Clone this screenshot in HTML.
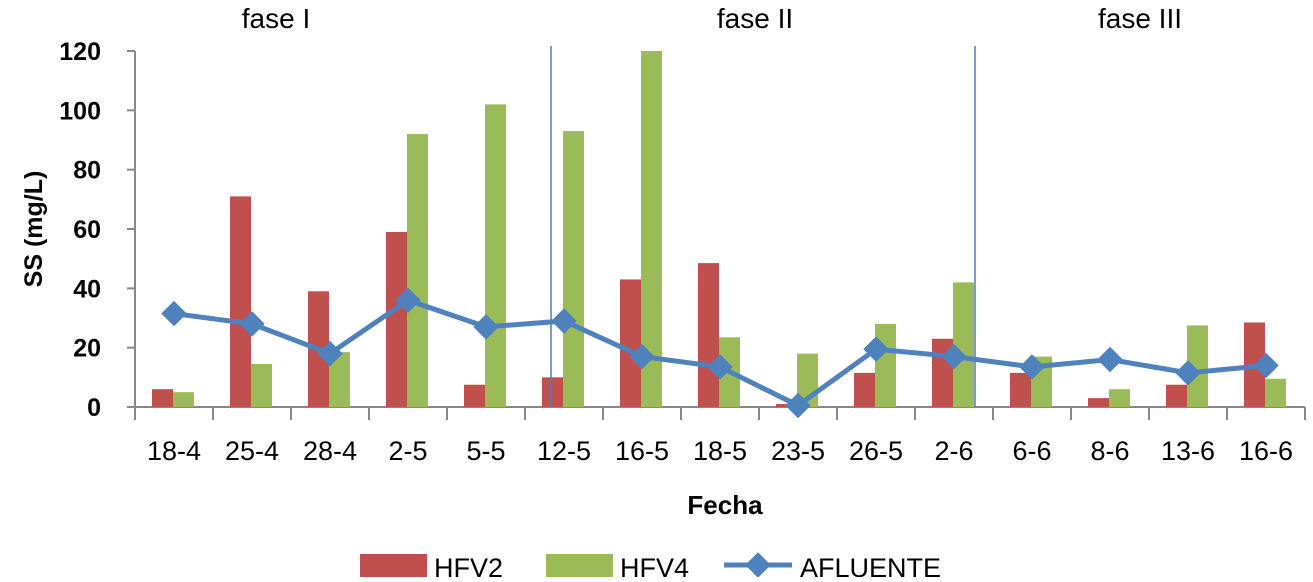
<!DOCTYPE html>
<html><head><meta charset="utf-8"><style>
body{margin:0;background:#fff;}
svg text{font-family:"Liberation Sans","DejaVu Sans",sans-serif;}
</style></head><body>
<svg id="c" width="1313" height="577" xmlns="http://www.w3.org/2000/svg"></svg>
<script>
const categories=["18-4","25-4","28-4","2-5","5-5","12-5","16-5","18-5","23-5","26-5","2-6","6-6","8-6","13-6","16-6"];
const hfv2=[6,71,39,59,7.5,10,43,48.5,1,11.5,23,11.5,3,7.5,28.5];
const hfv4=[5,14.5,18.5,92,102,93,120,23.5,18,28,42,17,6,27.5,9.5];
const afluente=[31.5,28,18,36,27,29,17,13.5,0.5,19.5,17,13.5,16,11.5,14];
const yTicks=[0,20,40,60,80,100,120];
const phases=["fase I","fase II","fase III"];
const NS="http://www.w3.org/2000/svg";
const svg=document.getElementById('c');
const L=135,step=78,Y0=407,pxu=356/120;
const x=i=>L+step*(i+0.5);
const y=v=>Y0-v*pxu;
function mk(t,a,p){const e=document.createElementNS(NS,t);for(const k in a)e.setAttribute(k,a[k]);(p||svg).appendChild(e);return e;}
let ax=mk('line',{x1:L,y1:51,x2:L,y2:Y0,stroke:'#888','stroke-width':2});


let bx=mk('line',{x1:L-8,y1:Y0,x2:L+step*15,y2:Y0,stroke:'#888','stroke-width':2});


yTicks.forEach(v=>{
 mk('line',{x1:L-8,y1:y(v),x2:L,y2:y(v),stroke:'#888','stroke-width':2});
 const t=mk('text',{x:L-34,y:y(v)+9,'text-anchor':'end','font-size':25,'font-weight':'bold'});t.textContent=v;
 
 
});
for(let i=0;i<=15;i++)mk('line',{x1:L+step*i,y1:Y0,x2:L+step*i,y2:Y0+13,stroke:'#888','stroke-width':2});
categories.forEach((c,i)=>{
 const t=mk('text',{x:x(i),y:Y0+53,'text-anchor':'middle','font-size':27});t.textContent=c;
 
 
 const r=mk('rect',{x:x(i)-22,y:y(hfv2[i]),width:21,height:Y0-y(hfv2[i]),fill:'#c0504d'});
 
 
 const g=mk('rect',{x:x(i)-1,y:y(hfv4[i]),width:21,height:Y0-y(hfv4[i]),fill:'#9bbb59'});
 
 
});
[551,975].forEach(px=>{const l=mk('line',{x1:px,y1:46,x2:px,y2:Y0,stroke:'#4a7ebb','stroke-width':1.5});
 
 });
[[276,phases[0]],[755,phases[1]],[1140,phases[2]]].forEach(([px,s])=>{
 const t=mk('text',{x:px,y:28,'text-anchor':'middle','font-size':28});t.textContent=s;
 
 });
const pts=afluente.map((v,i)=>x(i)+','+y(v)).join(' ');
const pl=mk('polyline',{points:pts,fill:'none',stroke:'#4f81bd','stroke-width':5});


afluente.forEach((v,i)=>{const d=mk('rect',{x:x(i)-9,y:y(v)-9,width:18,height:18,fill:'#4f81bd',transform:`rotate(45 ${x(i)} ${y(v)})`});
 
 });
let yt=mk('text',{x:0,y:0,'text-anchor':'middle','font-size':25,'font-weight':'bold',transform:'translate(42 229) rotate(-90)'});yt.textContent='SS (mg/L)';


let xt=mk('text',{x:725,y:514,'text-anchor':'middle','font-size':26,'font-weight':'bold'});xt.textContent='Fecha';


const lg=mk('g',{});


mk('rect',{x:360,y:554,width:67,height:23,fill:'#c0504d'},lg);
let t1=mk('text',{x:434,y:577,'font-size':27},lg);t1.textContent='HFV2';
mk('rect',{x:546,y:554,width:67,height:23,fill:'#9bbb59'},lg);
let t2=mk('text',{x:620,y:577,'font-size':27},lg);t2.textContent='HFV4';
mk('line',{x1:724,y1:565,x2:792,y2:565,stroke:'#4f81bd','stroke-width':5},lg);
mk('rect',{x:749,y:556,width:18,height:18,fill:'#4f81bd',transform:'rotate(45 758 565)'},lg);
let t3=mk('text',{x:800,y:577,'font-size':27},lg);t3.textContent='AFLUENTE';
</script>
</body></html>
